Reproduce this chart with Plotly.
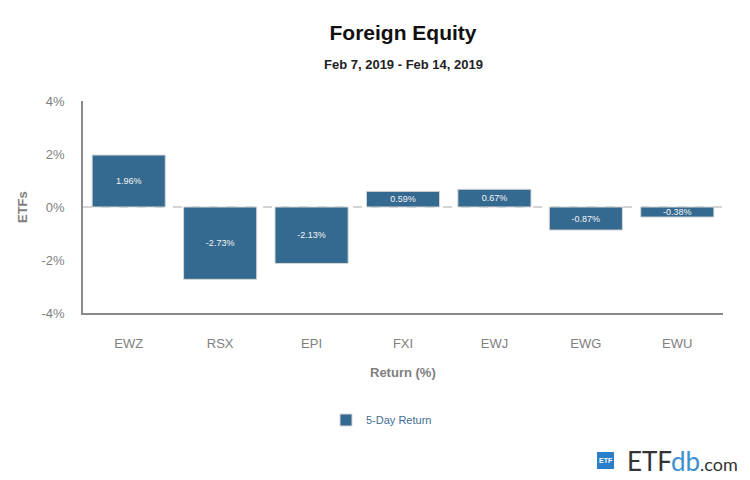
import plotly.graph_objects as go

categories = ["EWZ", "RSX", "EPI", "FXI", "EWJ", "EWG", "EWU"]
returns = [1.96, -2.73, -2.13, 0.59, 0.67, -0.87, -0.38]
y_ticks = [-4, -2, 0, 2, 4]
y_tick_labels = ["-4%", "-2%", "0%", "2%", "4%"]

FONT = "Liberation Sans, Arial, sans-serif"
BAR = "#346a90"
GRAY = "#7f7f7f"

# the page body has an 8px margin; compensate so the plot lands where the reference has it
OFF = 8
W, H = 750 - OFF, 480 - OFF

fig = go.Figure()
fig.add_trace(go.Bar(
    x=categories, y=returns, name="5-Day Return",
    marker=dict(color=BAR, line=dict(color="#d6d6d6", width=1)),
    text=[f"{v:.2f}%" for v in returns],
    textposition="inside", insidetextanchor="middle",
    textfont=dict(color="#f4f4f4", size=9, family=FONT),
    hoverinfo="skip",
))


def px_x(x):
    return (x - 83) / 640


def px_y(y):
    return (313 - y) / 212


fig.update_layout(
    width=W, height=H,
    margin=dict(l=83 - OFF, r=27, t=101 - OFF, b=167, autoexpand=False),
    paper_bgcolor="white", plot_bgcolor="white",
    font=dict(family=FONT),
    bargap=0.2,
    uniformtext=dict(minsize=9, mode="show"),
    showlegend=True,
    legend=dict(orientation="h", x=px_x(326), xanchor="left", y=px_y(420), yanchor="middle",
                font=dict(size=11, color="#3f6d93", family=FONT),
                itemwidth=30),
    title=dict(text="<b>Foreign Equity</b>", x=0.5, xref="paper", xanchor="center",
               y=1 - (33 - OFF) / H, yref="container", yanchor="middle",
               font=dict(size=21, color="#111", family=FONT)),
)

fig.update_yaxes(
    range=[-4, 4], tickvals=y_ticks, ticktext=y_tick_labels,
    showgrid=False, zeroline=False,
    showline=True, linecolor="#8a8a8a", linewidth=1.5,
    ticks="", ticklabelstandoff=14,
    tickfont=dict(size=13, color=GRAY, family=FONT),
    fixedrange=True,
)
fig.update_xaxes(
    showgrid=False, zeroline=False,
    showline=True, linecolor="#8a8a8a", linewidth=1.5,
    ticks="", ticklabelstandoff=18,
    tickfont=dict(size=13, color=GRAY, family=FONT),
    fixedrange=True,
)

# dashed zero line
fig.add_shape(type="line", xref="paper", yref="y", x0=0, x1=1, y0=0, y1=0,
              line=dict(color="#a8a8a8", width=1, dash="dash"), layer="below")

# subtitle
fig.add_annotation(text="<b>Feb 7, 2019 - Feb 14, 2019</b>", xref="paper", yref="paper",
                   x=0.5, y=px_y(64), xanchor="center", yanchor="middle",
                   showarrow=False, font=dict(size=13, color="#222", family=FONT))
# axis titles
fig.add_annotation(text="<b>ETFs</b>", xref="paper", yref="paper",
                   x=px_x(22), y=0.5, xanchor="center", yanchor="middle",
                   textangle=-90, showarrow=False,
                   font=dict(size=13, color=GRAY, family=FONT))
fig.add_annotation(text="<b>Return (%)</b>", xref="paper", yref="paper",
                   x=0.5, y=px_y(372), xanchor="center", yanchor="middle",
                   showarrow=False, font=dict(size=13, color=GRAY, family=FONT))

# ETFdb logo
fig.add_shape(type="rect", xref="paper", yref="paper",
              x0=px_x(597), x1=px_x(614), y0=px_y(469), y1=px_y(452),
              fillcolor="#2b7fc8", line=dict(width=0))
fig.add_annotation(text="<b>ETF</b>", xref="paper", yref="paper",
                   x=px_x(605.5), y=px_y(460.5), xanchor="center", yanchor="middle",
                   showarrow=False, font=dict(size=7, color="white", family=FONT))
fig.add_annotation(text="ETF<span style='color:#3d8fd1'>db</span><span style='font-size:18px'>.com</span>",
                   xref="paper", yref="paper",
                   x=px_x(625), y=px_y(461), xanchor="left", yanchor="middle",
                   showarrow=False, font=dict(size=26, color="#333", family="Lato, Open Sans, sans-serif"))

fig.write_html("out.html")
